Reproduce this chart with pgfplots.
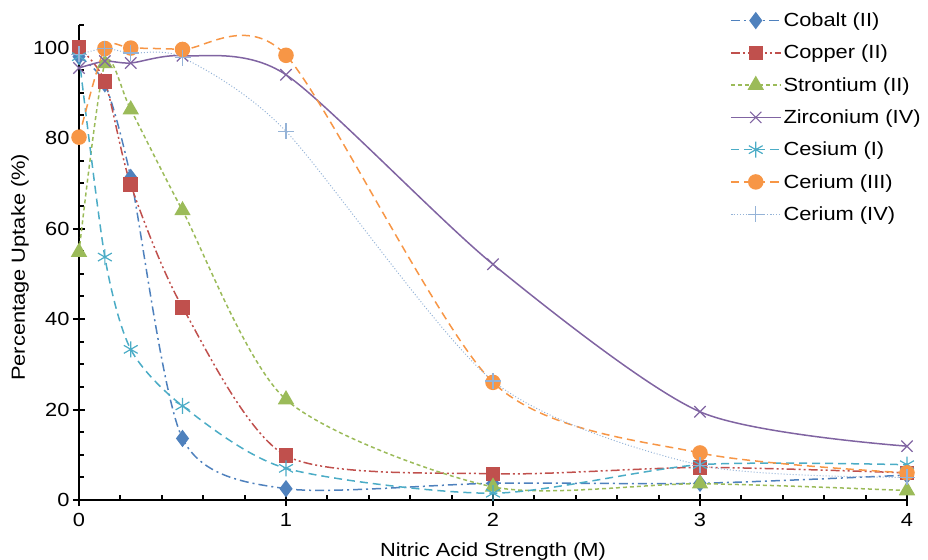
\documentclass[border=0pt]{standalone}
\usepackage{fontspec}
\setmainfont{Liberation Sans}[FakeStretch=1.15]
\usepackage{pgfplots}
\pgfplotsset{compat=1.18}
\usepackage{pgfplotstable}
\definecolor{cCo}{HTML}{4F81BD}
\definecolor{cCu}{HTML}{C0504D}
\definecolor{cSr}{HTML}{9BBB59}
\definecolor{cZr}{HTML}{8064A2}
\definecolor{cCs}{HTML}{4BACC6}
\definecolor{cCe3}{HTML}{F79646}
\definecolor{cCe4}{HTML}{95B3D7}
\pgfplotstableread{
x Co Cu Sr Zr Cs Ce3 Ce4
0 98 100 54.8 95.5 98 80.2 98.5
0.125 92 92.5 96.5 97 53.7 99.8 99.8
0.25 71.3 69.7 86.3 96.6 33.3 99.9 98.8
0.5 13.6 42.6 64 98.2 20.8 99.6 97.8
1 2.5 9.8 22.2 94 7 98.3 81.5
2 3.7 5.8 2.9 52.1 1.5 26 26.3
3 3.7 7.2 3.6 19.5 7.8 10.4 7.7
4 5.5 6 2.1 11.9 7.8 6 5
}\data
\begin{document}
\begin{tikzpicture}
\begin{axis}[
  scale only axis, width=828pt, height=475pt,
  xmin=0, xmax=4, ymin=0, ymax=105,
  clip=false,
  axis lines=left,
  axis line style={-, line width=2pt, black},
  xtick={0,1,2,3,4}, ytick={0,20,40,60,80,100},
  minor xtick={0.2,0.4,0.6,0.8,1.2,1.4,1.6,1.8,2.2,2.4,2.6,2.8,3.2,3.4,3.6,3.8},
  minor ytick={5,10,15,25,30,35,45,50,55,65,70,75,85,90,95,105},
  tick align=center,
  major tick length=12pt, minor tick length=5pt,
  tick style={black, line width=2pt},
  minor x tick style={yshift=2.5pt},
  minor y tick style={xshift=2.5pt},
  /pgf/number format/assume math mode=true,
  ticklabel style={font=\fontsize{19}{21}\selectfont},
  xticklabel style={yshift=-4pt},
  xlabel={Nitric Acid Strength (M)},
  ylabel={Percentage Uptake (\%)},
  label style={font=\fontsize{19}{22}\selectfont},
  xlabel style={at={(axis description cs:0.5,-0.109)}, anchor=center},
  ylabel style={at={(axis description cs:-0.0713,0.49)}, anchor=center, rotate=0},
  legend style={at={(axis description cs:0.786,1.030)}, anchor=north west,
    draw=none, fill=none, font=\fontsize{19}{22}\selectfont,
    row sep=13pt, cells={anchor=west}, inner sep=0pt},
  legend image code/.code={\draw[mark repeat=2,mark phase=2,#1] plot coordinates {(0pt,0pt) (25pt,0pt) (50pt,0pt)};},
  every axis plot/.append style={line width=1.5pt, smooth, tension=0.45},
]
\addplot[color=cCo, dash pattern=on 9pt off 4pt on 2pt off 4pt, mark=diamond*, mark size=7.5pt, mark options={solid, fill=cCo}] table[x=x,y=Co]{\data};
\addlegendentry{Cobalt (II)}
\addplot[color=cCu, dash pattern=on 9pt off 3pt on 2pt off 3pt on 2pt off 3pt, mark=square*, mark size=6.5pt, mark options={solid, fill=cCu}] table[x=x,y=Cu]{\data};
\addlegendentry{Copper (II)}
\addplot[color=cSr, dash pattern=on 4pt off 3pt, mark=triangle*, mark size=8pt, mark options={solid, fill=cSr}] table[x=x,y=Sr]{\data};
\addlegendentry{Strontium (II)}
\addplot[color=cZr, mark=x, mark size=8pt, mark options={solid, line width=1.2pt}] table[x=x,y=Zr]{\data};
\addlegendentry{Zirconium (IV)}
\addplot[color=cCs, dash pattern=on 8pt off 5pt, mark=asterisk, mark size=8pt, mark options={solid, line width=1.2pt}] table[x=x,y=Cs]{\data};
\addlegendentry{Cesium (I)}
\addplot[color=cCe3, dash pattern=on 8pt off 5pt, mark=*, mark size=7pt, mark options={solid, fill=cCe3}] table[x=x,y=Ce3]{\data};
\addlegendentry{Cerium (III)}
\addplot[color=cCe4, line width=1pt, dash pattern=on 1pt off 2pt, mark=+, mark size=8pt, mark options={solid, line width=1.2pt}] table[x=x,y=Ce4]{\data};
\addlegendentry{Cerium (IV)}
\end{axis}
\pgfresetboundingbox
\path[use as bounding box] (-79pt,-59pt) rectangle (849pt,500pt);
\end{tikzpicture}
\end{document}
